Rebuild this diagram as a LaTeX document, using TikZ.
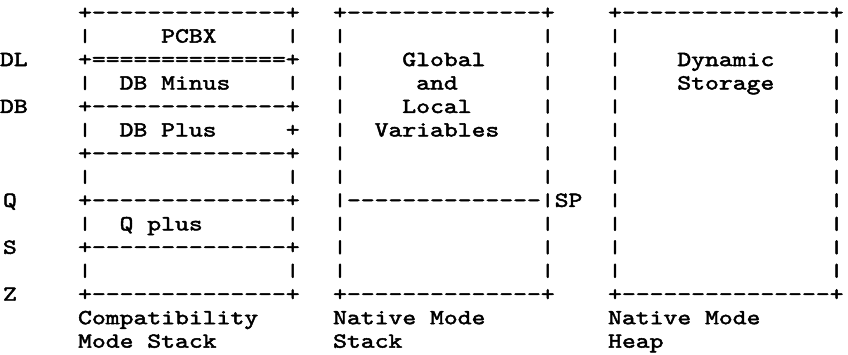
\documentclass[tikz,border=0pt]{standalone}
\usepackage{fontspec}
\usepackage{graphicx}
\newfontfamily\cour{lmmono10-regular.otf}[FakeStretch=1.227,FakeBold=2.2,Ligatures=TeXOff]
\newcommand\vb{\raisebox{-0.5pt}{\resizebox*{\width}{14pt}{\raisebox{\depth}{|}}}}
\newcommand\gp[1]{\hphantom{#1}}
\newcommand\rowy[1]{{19.1+23.47*#1}}
\begin{document}
\begin{tikzpicture}[x=1pt,y=-1pt,
  txt/.style={inner sep=0pt, outer sep=0pt, anchor=base west,
    font=\cour\fontsize{21.5}{23.5}\selectfont}]
\useasboundingbox (0,0) rectangle (848,355);
% side labels
\node[txt] (lDL) at (0,\rowy{2}) {DL};
\node[txt] (lDB) at (0,\rowy{4}) {DB};
\node[txt] (lQ) at (3,\rowy{8}) {Q};
\node[txt] (lS) at (3,\rowy{10}) {S};
\node[txt] (lZ) at (3,\rowy{12}) {Z};
% compatibility mode stack
\node[txt] (a0) at (78.1,\rowy{0}) {+--------------+};
\node[txt] (a1) at (78.1,\rowy{1}) {\vb\gp{xxxxx}PCBX\gp{xxxxx}\vb};
\node[txt] (a2) at (78.1,\rowy{2}) {+==============+};
\node[txt] (a3) at (78.1,\rowy{3}) {\vb\gp{xx}DB\gp{x}Minus\gp{xxxx}\vb};
\node[txt] (a4) at (78.1,\rowy{4}) {+--------------+};
\node[txt] (a5) at (78.1,\rowy{5}) {\vb\gp{xx}DB\gp{x}Plus\gp{xxxxx}+};
\node[txt] (a6) at (78.1,\rowy{6}) {+--------------+};
\node[txt] (a7) at (78.1,\rowy{7}) {\vb\gp{xxxxxxxxxxxxxx}\vb};
\node[txt] (a8) at (78.1,\rowy{8}) {+--------------+};
\node[txt] (a9) at (78.1,\rowy{9}) {\vb\gp{xx}Q\gp{x}plus\gp{xxxxxx}\vb};
\node[txt] (a10) at (78.1,\rowy{10}) {+--------------+};
\node[txt] (a11) at (78.1,\rowy{11}) {\vb\gp{xxxxxxxxxxxxxx}\vb};
\node[txt] (a12) at (78.1,\rowy{12}) {+--------------+};
\node[txt] (a13) at (78.1,\rowy{13}) {Compatibility};
\node[txt] (a14) at (78.1,\rowy{14}) {Mode\gp{x}Stack};
% native mode stack
\node[txt] (b0) at (333.1,\rowy{0}) {+--------------+};
\node[txt] (b1) at (333.1,\rowy{1}) {\vb\gp{xxxxxxxxxxxxxx}\vb};
\node[txt] (b2) at (333.1,\rowy{2}) {\vb\gp{xxxx}Global\gp{xxxx}\vb};
\node[txt] (b3) at (333.1,\rowy{3}) {\vb\gp{xxxxx}and\gp{xxxxxx}\vb};
\node[txt] (b4) at (333.1,\rowy{4}) {\vb\gp{xxxx}Local\gp{xxxxx}\vb};
\node[txt] (b5) at (333.1,\rowy{5}) {\vb\gp{xx}Variables\gp{xxx}\vb};
\node[txt] (b6) at (333.1,\rowy{6}) {\vb\gp{xxxxxxxxxxxxxx}\vb};
\node[txt] (b7) at (333.1,\rowy{7}) {\vb\gp{xxxxxxxxxxxxxx}\vb};
\node[txt] (b8) at (333.1,\rowy{8}) {\vb--------------\vb SP};
\node[txt] (b9) at (333.1,\rowy{9}) {\vb\gp{xxxxxxxxxxxxxx}\vb};
\node[txt] (b10) at (333.1,\rowy{10}) {\vb\gp{xxxxxxxxxxxxxx}\vb};
\node[txt] (b11) at (333.1,\rowy{11}) {\vb\gp{xxxxxxxxxxxxxx}\vb};
\node[txt] (b12) at (333.1,\rowy{12}) {+--------------+};
\node[txt] (b13) at (333.1,\rowy{13}) {Native\gp{x}Mode};
\node[txt] (b14) at (333.1,\rowy{14}) {Stack};
% native mode heap
\node[txt] (c0) at (608.1,\rowy{0}) {+---------------+};
\node[txt] (c1) at (608.1,\rowy{1}) {\vb\gp{xxxxxxxxxxxxxxx}\vb};
\node[txt] (c2) at (608.1,\rowy{2}) {\vb\gp{xxxx}Dynamic\gp{xxxx}\vb};
\node[txt] (c3) at (608.1,\rowy{3}) {\vb\gp{xxxx}Storage\gp{xxxx}\vb};
\foreach \k in {4,...,11}{
  \node[txt] (c\k) at (608.1,\rowy{\k}) {\vb\gp{xxxxxxxxxxxxxxx}\vb};
}
\node[txt] (c12) at (608.1,\rowy{12}) {+---------------+};
\node[txt] (c13) at (608.1,\rowy{13}) {Native\gp{x}Mode};
\node[txt] (c14) at (608.1,\rowy{14}) {Heap};
\end{tikzpicture}
\end{document}
